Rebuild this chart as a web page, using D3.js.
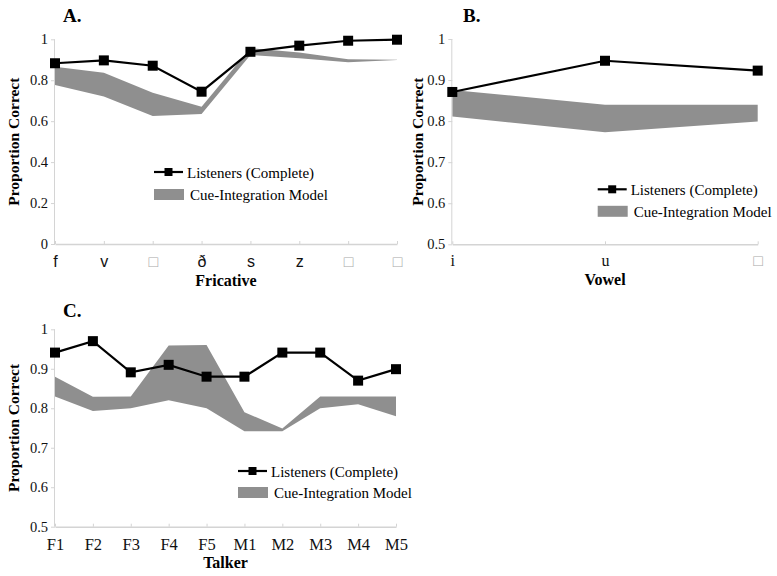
<!DOCTYPE html>
<html><head><meta charset="utf-8">
<script src="https://cdn.jsdelivr.net/npm/d3@7"></script>
<style>html,body{margin:0;padding:0;background:#fff;} .serif{font-family:"Liberation Serif","Times New Roman",Times,serif;} .sans{font-family:"Liberation Sans",Arial,Helvetica,sans-serif;}</style>
</head><body>
<svg id="chart" width="777" height="576"></svg>
<script>
// ---- Data ----
const fricatives = ["f", "v", "\u25A1", "ð", "s", "z", "\u25A1", "\u25A1"];
const fricListeners = [0.883, 0.897, 0.871, 0.744, 0.939, 0.969, 0.993, 0.998];
const fricModelHigh = [0.866, 0.837, 0.739, 0.671, 0.957, 0.935, 0.902, 0.900];
const fricModelLow  = [0.777, 0.720, 0.625, 0.635, 0.923, 0.907, 0.888, 0.899];
const fricTicks = [0, 0.2, 0.4, 0.6, 0.8, 1];

const vowels = ["i", "u", "\u25A1"];
const vowListeners = [0.871, 0.947, 0.923];
const vowModelHigh = [0.876, 0.840, 0.840];
const vowModelLow  = [0.811, 0.773, 0.799];
const vowTicks = [0.5, 0.6, 0.7, 0.8, 0.9, 1];

const talkers = ["F1", "F2", "F3", "F4", "F5", "M1", "M2", "M3", "M4", "M5"];
const talkListeners = [0.941, 0.970, 0.891, 0.910, 0.880, 0.880, 0.941, 0.941, 0.870, 0.899];
const talkModelHigh = [0.880, 0.829, 0.830, 0.959, 0.960, 0.790, 0.749, 0.830, 0.830, 0.830];
const talkModelLow  = [0.830, 0.793, 0.800, 0.820, 0.800, 0.742, 0.742, 0.800, 0.810, 0.780];
const talkTicks = [0.5, 0.6, 0.7, 0.8, 0.9, 1];

const legendLabels = ["Listeners (Complete)", "Cue-Integration Model"];

// ---- Drawing ----
const svg = d3.select("#chart");
const AXIS = "#d4d4d4";
const BAND = "#8f8f8f";

function panel(cfg) {
  const g = svg.append("g");
  const idx = d3.range(cfg.cats.length);
  const x = d3.scalePoint().domain(idx).range([cfg.x0, cfg.x1]);
  const y = d3.scaleLinear().domain(cfg.yDomain).range([cfg.yBottom, cfg.yTop]);

  const rows = idx.map(i => ({i, hi: cfg.hi[i], lo: cfg.lo[i], v: cfg.vals[i]}));
  g.append("path").datum(rows)
    .attr("d", d3.area().x(d => x(d.i)).y0(d => y(d.lo)).y1(d => y(d.hi)))
    .attr("fill", BAND);

  // y axis
  const ya = g.append("g").attr("transform", `translate(${cfg.x0},0)`)
    .call(d3.axisLeft(y).tickValues(cfg.yTicks).tickSize(4).tickPadding(3)
      .tickFormat(d => String(+d.toFixed(1))));
  ya.attr("font-family", null);
  ya.select(".domain").attr("stroke", AXIS).attr("d", `M-0.5,${cfg.yBottom}V${cfg.yTop}`);
  ya.selectAll(".tick line").attr("stroke", AXIS);
  ya.selectAll(".tick text").attr("class", "serif").attr("font-size", 14.5).attr("fill", "#111");

  // x axis
  const xa = g.append("g").attr("transform", `translate(0,${cfg.yBottom})`)
    .call(d3.axisBottom(x).tickSize(3).tickPadding(0).tickSizeOuter(0).tickFormat(i => cfg.cats[i]));
  xa.attr("font-family", null);
  xa.select(".domain").attr("stroke", AXIS).attr("stroke-width", 1.5);
  xa.selectAll(".tick line").attr("stroke", AXIS).attr("y1", -3).attr("y2", 0);
  xa.selectAll(".tick text")
    .attr("class", i => cfg.cats[i] === "\u25A1" ? "sans" : cfg.xClass)
    .attr("font-size", cfg.xFontSize)
    .attr("dy", null).attr("y", cfg.xLabelBaseline - cfg.yBottom)
    .attr("fill", i => cfg.cats[i] === "\u25A1" ? "#aaa" : "#111");

  // line + markers
  g.append("path").datum(rows)
    .attr("d", d3.line().x(d => x(d.i)).y(d => y(d.v)))
    .attr("fill", "none").attr("stroke", "#000").attr("stroke-width", 2.2);
  g.selectAll("rect.mk").data(rows).enter().append("rect")
    .attr("x", d => x(d.i) - 5).attr("y", d => y(d.v) - 5)
    .attr("width", 10).attr("height", 10).attr("fill", "#000");

  // titles
  g.append("text").attr("class", "serif").attr("x", cfg.titleX).attr("y", cfg.titleY).text(cfg.title)
    .attr("font-weight", "bold").attr("font-size", 19);
  g.append("text").attr("class", "serif")
    .attr("transform", `translate(${cfg.yLabelX},${(cfg.yTop + cfg.yBottom) / 2}) rotate(-90)`)
    .attr("text-anchor", "middle").text("Proportion Correct")
    .attr("font-weight", "bold").attr("font-size", 15.5);
  g.append("text").attr("class", "serif").attr("x", (cfg.x0 + cfg.x1) / 2).attr("y", cfg.xTitleY)
    .attr("text-anchor", "middle").text(cfg.xTitle)
    .attr("font-weight", "bold").attr("font-size", 16);

  // legend
  const L = cfg.legend;
  g.append("line").attr("x1", L.x).attr("x2", L.x + 29).attr("y1", L.y1).attr("y2", L.y1)
    .attr("stroke", "#000").attr("stroke-width", 2.2);
  g.append("rect").attr("x", L.x + 14.5 - 4).attr("y", L.y1 - 4).attr("width", 8).attr("height", 8).attr("fill", "#000");
  g.append("text").attr("class", "serif").attr("x", L.x + 33).attr("y", L.y1 + 5.5).text(legendLabels[0])
    .attr("font-size", 15);
  g.append("rect").attr("x", L.x).attr("y", L.y2 - 5.5).attr("width", 30).attr("height", 11).attr("fill", BAND);
  g.append("text").attr("class", "serif").attr("x", L.x + 36).attr("y", L.y2 + 5.5).text(legendLabels[1])
    .attr("font-size", 15);
}

panel({
  cats: fricatives, vals: fricListeners, hi: fricModelHigh, lo: fricModelLow,
  yDomain: [0, 1], yTicks: fricTicks,
  x0: 55, x1: 397, yTop: 39.3, yBottom: 244,
  xClass: "sans", xFontSize: 16, xLabelBaseline: 266.5,
  title: "A.", titleX: 63, titleY: 22,
  yLabelX: 19, xTitle: "Fricative", xTitleY: 286,
  legend: {x: 154, y1: 172, y2: 194.5}
});
panel({
  cats: vowels, vals: vowListeners, hi: vowModelHigh, lo: vowModelLow,
  yDomain: [0.5, 1], yTicks: vowTicks,
  x0: 452.3, x1: 757.7, yTop: 39, yBottom: 244.3,
  xClass: "serif", xFontSize: 16, xLabelBaseline: 266.5,
  title: "B.", titleX: 463, titleY: 22,
  yLabelX: 423, xTitle: "Vowel", xTitleY: 285,
  legend: {x: 597.7, y1: 189.3, y2: 211.3}
});
panel({
  cats: talkers, vals: talkListeners, hi: talkModelHigh, lo: talkModelLow,
  yDomain: [0.5, 1], yTicks: talkTicks,
  x0: 55, x1: 396, yTop: 329.3, yBottom: 526.7,
  xClass: "serif", xFontSize: 16.5, xLabelBaseline: 550,
  title: "C.", titleX: 63, titleY: 317,
  yLabelX: 19, xTitle: "Talker", xTitleY: 568,
  legend: {x: 238, y1: 471, y2: 492.5}
});
</script>
</body></html>
